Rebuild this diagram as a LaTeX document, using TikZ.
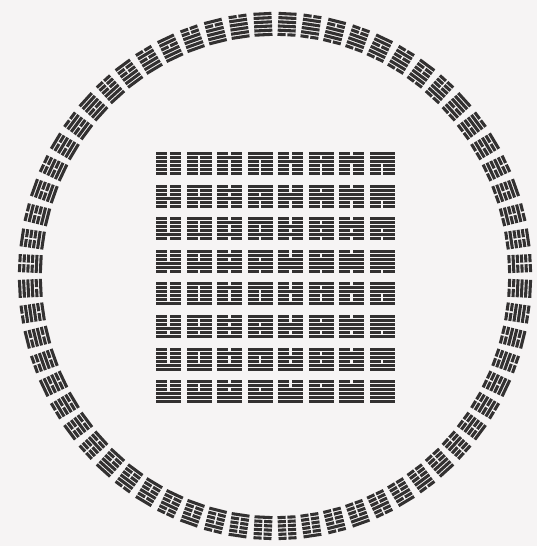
\documentclass[tikz,border=0pt]{standalone}
\definecolor{paper}{HTML}{F6F4F4}
\definecolor{ink}{HTML}{333131}
\newcommand\hexagramdraw[3]{%
  \pgfmathsetmacro\hxw{#2/2}%
  \pgfmathsetmacro\hxt{#3*0.128}%
  \pgfmathsetmacro\hxs{(#3-\hxt)/5}%
  \pgfmathsetmacro\hxg{#2*0.05}%
  \foreach \i in {1,...,6}{%
    \pgfmathtruncatemacro\hxbit{mod(floor(#1/(2^(6-\i))),2)}%
    \pgfmathsetmacro\hxyb{-#3/2+(\i-1)*\hxs}%
    \pgfmathsetmacro\hxyt{\hxyb+\hxt}%
    \ifnum\hxbit=1
      \fill[yaoline] (-\hxw,\hxyb) rectangle (\hxw,\hxyt);
    \else
      \fill[yaoline] (-\hxw,\hxyb) rectangle (-\hxg,\hxyt);
      \fill[yaoline] (\hxg,\hxyb) rectangle (\hxw,\hxyt);
    \fi
  }%
}
\begin{document}
\begin{tikzpicture}[x=1pt,y=1pt, yaoline/.style={fill=ink}]
\fill[paper] (0,0) rectangle (537,546);
\useasboundingbox (0,0) rectangle (537,546);
% circle of 64 hexagrams
\foreach \k in {0,...,31}{
  \pgfmathsetmacro\angL{90+(\k+0.5)*5.625}
  \pgfmathtruncatemacro\vL{63-\k}
  \begin{scope}[shift={({275+245*cos(\angL)},{270+252*sin(\angL)})}, rotate=\angL-90]
    \hexagramdraw{\vL}{18}{24}
  \end{scope}
  \pgfmathsetmacro\angR{90-(\k+0.5)*5.625}
  \pgfmathtruncatemacro\vR{31-\k}
  \begin{scope}[shift={({275+245*cos(\angR)},{270+252*sin(\angR)})}, rotate=\angR-90]
    \hexagramdraw{\vR}{18}{24}
  \end{scope}
}
% square of 64 hexagrams
\foreach \r in {0,...,7}{
  \foreach \c in {0,...,7}{
    \pgfmathtruncatemacro\vS{8*\r+\c}
    \begin{scope}[shift={({168.5+\c*30.5},{546-163.5-\r*32.6})}]
      \hexagramdraw{\vS}{25}{23}
    \end{scope}
  }
}
\end{tikzpicture}
\end{document}
